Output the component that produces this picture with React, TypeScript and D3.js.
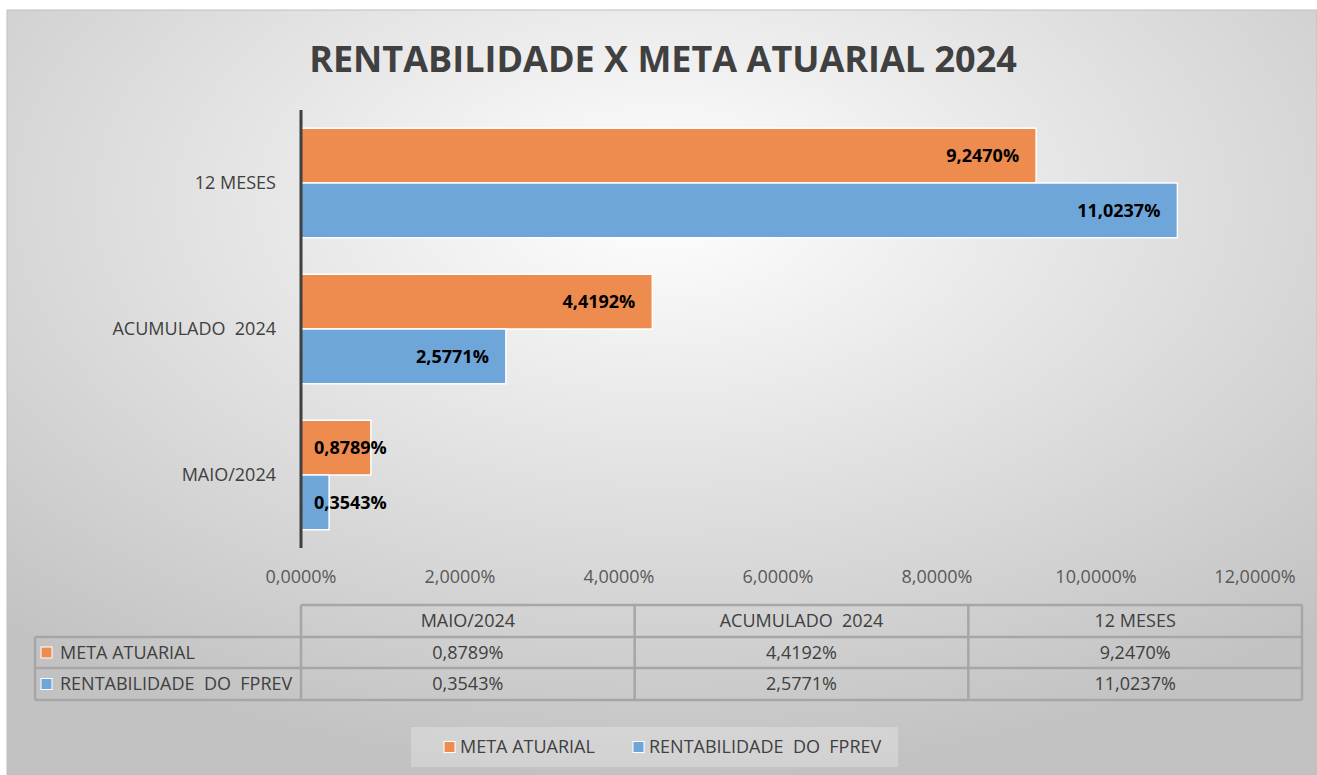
import React, { useRef, useEffect } from "react";
import * as d3 from "d3";

const categories = ["MAIO/2024", "ACUMULADO  2024", "12 MESES"];
const seriesNames = ["META ATUARIAL", "RENTABILIDADE  DO  FPREV"];
const metaAtuarial = [0.8789, 4.4192, 9.247];
const rentabilidade = [0.3543, 2.5771, 11.0237];
const xTicks = [0, 2, 4, 6, 8, 10, 12];
const colors = ["#EE8C4F", "#6FA6D9"];

const fmt = (v: number) => v.toFixed(4).replace(".", ",") + "%";
const FONT = "'Open Sans', Lato, sans-serif";
const FS = 18;

const App: React.FC = () => {
  const svgRef = useRef<SVGSVGElement | null>(null);

  useEffect(() => {
    if (!svgRef.current) return;
    const W = 1317;
    const H = 775;
    const svg = d3.select(svgRef.current);
    svg.selectAll("*").remove();
    svg.attr("width", W).attr("height", H);

    // fundo com gradiente radial
    const defs = svg.append("defs");
    const grad = defs
      .append("radialGradient")
      .attr("id", "bg")
      .attr("cx", "50%")
      .attr("cy", "25%")
      .attr("r", "75%");
    grad.append("stop").attr("offset", "0%").attr("stop-color", "#ffffff");
    grad.append("stop").attr("offset", "100%").attr("stop-color", "#c2c2c2");

    svg
      .append("rect")
      .attr("x", 7)
      .attr("y", 10)
      .attr("width", W - 7)
      .attr("height", H - 10)
      .attr("fill", "url(#bg)")
      .attr("stroke", "#bfbfbf")
      .attr("stroke-width", 1);

    // título
    svg
      .append("text")
      .attr("x", 663)
      .attr("y", 72)
      .attr("text-anchor", "middle")
      .attr("font-family", FONT)
      .attr("font-weight", "bold")
      .attr("font-size", 36)
      .attr("fill", "#404040")
      .text("RENTABILIDADE X META ATUARIAL 2024");

    const left = 301;
    const right = 1255;
    const top = 110;
    const bottom = 548;

    const x = d3.scaleLinear().domain([0, 12]).range([left, right]);
    const yCat = d3
      .scaleBand<string>()
      .domain([...categories].reverse())
      .range([top, bottom])
      .paddingInner(0.25)
      .paddingOuter(0.125);
    const ySer = d3
      .scaleBand<string>()
      .domain(seriesNames)
      .range([0, yCat.bandwidth()]);

    const rows = categories.map((c, i) => ({
      cat: c,
      vals: [metaAtuarial[i], rentabilidade[i]],
    }));

    const g = svg.append("g");
    rows.forEach((r) => {
      r.vals.forEach((v, si) => {
        const y0 = yCat(r.cat)! + ySer(seriesNames[si])!;
        const w = x(v) - x(0);
        g.append("rect")
          .attr("x", x(0))
          .attr("y", y0)
          .attr("width", w)
          .attr("height", ySer.bandwidth())
          .attr("fill", colors[si])
          .attr("stroke", "#ffffff")
          .attr("stroke-width", 1.5);
        const small = w < 110;
        g.append("text")
          .attr("x", small ? x(0) + 13 : x(v) - 17)
          .attr("y", y0 + ySer.bandwidth() / 2)
          .attr("dy", "0.35em")
          .attr("text-anchor", small ? "start" : "end")
          .attr("font-family", FONT)
          .attr("font-weight", "bold")
          .attr("font-size", FS)
          .attr("fill", "#000000")
          .text(fmt(v));
      });
      // rótulo da categoria
      g.append("text")
        .attr("x", 276)
        .attr("y", yCat(r.cat)! + yCat.bandwidth() / 2)
        .attr("dy", "0.35em")
        .attr("text-anchor", "end")
        .attr("font-family", FONT)
        .attr("font-size", FS)
        .attr("fill", "#404040")
        .style("white-space", "pre")
        .text(r.cat);
    });

    // eixo vertical
    svg
      .append("line")
      .attr("x1", x(0))
      .attr("x2", x(0))
      .attr("y1", top)
      .attr("y2", bottom)
      .attr("stroke", "#404040")
      .attr("stroke-width", 3);

    // rótulos do eixo X
    svg
      .selectAll(".xtick")
      .data(xTicks)
      .enter()
      .append("text")
      .attr("class", "xtick")
      .attr("x", (d) => x(d))
      .attr("y", 577)
      .attr("dy", "0.35em")
      .attr("text-anchor", "middle")
      .attr("font-family", FONT)
      .attr("font-size", FS)
      .attr("fill", "#595959")
      .text((d) => fmt(d));

    // tabela de dados
    const colX = d3
      .scaleBand<string>()
      .domain(categories)
      .range([301, 1302]);
    const rowY = [605, 637, 668, 700];
    const tableLeft = 35;
    const tb = svg.append("g");
    const lineColor = "#a6a6a6";
    const hline = (x1: number, x2: number, y: number) =>
      tb.append("line").attr("x1", x1).attr("x2", x2).attr("y1", y).attr("y2", y)
        .attr("stroke", lineColor).attr("stroke-width", 2.5);
    const vline = (xx: number, y1: number, y2: number) =>
      tb.append("line").attr("x1", xx).attr("x2", xx).attr("y1", y1).attr("y2", y2)
        .attr("stroke", lineColor).attr("stroke-width", 2.5);

    hline(301, 1302, rowY[0]);
    hline(tableLeft, 1302, rowY[1]);
    hline(tableLeft, 1302, rowY[2]);
    hline(tableLeft, 1302, rowY[3]);
    vline(tableLeft, rowY[1], rowY[3]);
    categories.forEach((c) => vline(colX(c)!, rowY[0], rowY[3]));
    vline(1302, rowY[0], rowY[3]);

    const cellText = (xx: number, yy: number, t: string, anchor = "middle") =>
      tb.append("text")
        .attr("x", xx)
        .attr("y", yy)
        .attr("dy", "0.35em")
        .attr("text-anchor", anchor)
        .attr("font-family", FONT)
        .attr("font-size", FS)
        .attr("fill", "#404040")
        .style("white-space", "pre")
        .text(t);

    categories.forEach((c, i) => {
      const cx = colX(c)! + colX.bandwidth() / 2;
      cellText(cx, (rowY[0] + rowY[1]) / 2, c);
      cellText(cx, (rowY[1] + rowY[2]) / 2, fmt(metaAtuarial[i]));
      cellText(cx, (rowY[2] + rowY[3]) / 2, fmt(rentabilidade[i]));
    });
    seriesNames.forEach((s, si) => {
      const cy = (rowY[si + 1] + rowY[si + 2]) / 2;
      tb.append("rect")
        .attr("x", 41)
        .attr("y", cy - 5.5)
        .attr("width", 11)
        .attr("height", 11)
        .attr("fill", colors[si])
        .attr("stroke", "#ffffff")
        .attr("stroke-width", 1);
      cellText(60, cy, s, "start");
    });

    // legenda
    const lg = svg.append("g");
    lg.append("rect")
      .attr("x", 411)
      .attr("y", 727)
      .attr("width", 487)
      .attr("height", 40)
      .attr("fill", "#ffffff")
      .attr("fill-opacity", 0.25);
    const legendX = [444, 633];
    seriesNames.forEach((s, si) => {
      lg.append("rect")
        .attr("x", legendX[si])
        .attr("y", 741.5)
        .attr("width", 11)
        .attr("height", 11)
        .attr("fill", colors[si])
        .attr("stroke", "#ffffff")
        .attr("stroke-width", 1);
      lg.append("text")
        .attr("x", legendX[si] + 16)
        .attr("y", 747)
        .attr("dy", "0.35em")
        .attr("font-family", FONT)
        .attr("font-size", FS)
        .attr("fill", "#404040")
        .style("white-space", "pre")
        .text(s);
    });
  }, []);

  return (
    <div style={{ position: "absolute", left: 0, top: 0 }}>
      <svg ref={svgRef}></svg>
    </div>
  );
};

export default App;
